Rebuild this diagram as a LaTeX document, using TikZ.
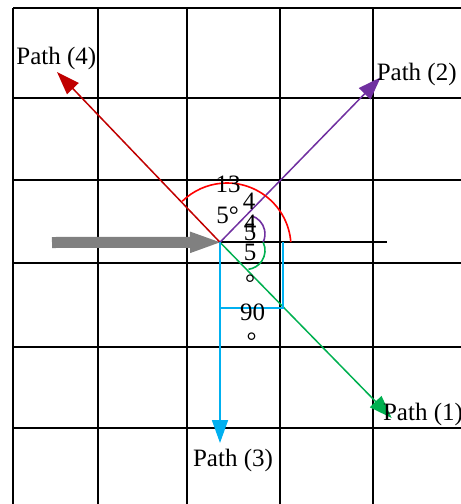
\documentclass[tikz,border=0pt]{standalone}
\usepackage{fontspec}
\setmainfont{Liberation Serif}
\usetikzlibrary{arrows.meta}
\definecolor{cRed}{HTML}{C00000}
\definecolor{cArc}{HTML}{FF0000}
\definecolor{cPur}{HTML}{7030A0}
\definecolor{cGrn}{HTML}{00B050}
\definecolor{cCya}{HTML}{00B0F0}
\definecolor{cGry}{HTML}{808080}
\begin{document}
\begin{tikzpicture}[x=1pt,y=-1pt,
  gridline/.style={black,line width=2pt},
  ray/.style={line width=1.5pt,-{Triangle[length=23pt,width=16pt]}},
  arcline/.style={line width=1.6pt},
  lbl/.style={inner sep=0pt,anchor=base,font=\fontsize{25}{30}\selectfont},
]
\useasboundingbox (0,0) rectangle (461,504);
\begin{scope}
\clip (0,0) rectangle (461,504);
\foreach \x in {13.3,97.7,187,280,373} \draw[gridline] (\x,8.3) -- (\x,510);
\foreach \y in {8.3,97.7,180,263.3,346.7,428} \draw[gridline] (13.3,\y) -- (470,\y);
\end{scope}
\coordinate (O) at (220,242.3);
\coordinate (E) at (387,242.3);
\draw[black,line width=1.8pt] (O) -- (E);
\coordinate (G) at (52,242.5);
\draw[cGry,line width=11pt,-{Triangle[length=30pt,width=21.6pt,line width=0pt]}] (G) -- (O);
\coordinate (t4) at (57,72);
\coordinate (t2) at (380.7,77.3);
\coordinate (t1) at (391.7,418);
\coordinate (t3) at (220,443);
\draw[ray,cRed] (O) -- (t4);
\draw[ray,cPur] (O) -- (t2);
\draw[ray,cGrn] (O) -- (t1);
\draw[ray,cCya,line width=1.8pt] (O) -- (t3);
\draw[arcline,cArc] (290.8,242.1) arc[start angle=-4.4,end angle=-134.4,radius=64];
\draw[arcline,cPur] (251.6,215.8) arc[start angle=-72.8,end angle=25.4,radius=19];
\draw[arcline,cGrn] (263.2,242.3) arc[start angle=-25.4,end angle=82.6,radius=19];
\coordinate (q1) at (220,308.3);
\coordinate (q2) at (283.3,308.3);
\coordinate (q3) at (283.3,242.3);
\draw[cCya,line width=1.8pt] (q1) -- (q2) -- (q3);
\node[lbl] (p4) at (56.3,64) {Path (4)};
\node[lbl] (p2) at (416.7,80) {Path (2)};
\node[lbl] (p1) at (423,420.5) {Path (1)};
\node[lbl] (p3) at (233,466.5) {Path (3)};
\node[lbl] (a1) at (228,192.5) {13};
\node[lbl] (a2) at (227.5,223) {5°};
\node[lbl] (b1) at (249,209.5) {4};
\node[lbl] (b2) at (250,231.5) {4};
\node[lbl] (b3) at (250,240) {5};
\node[lbl] (c1) at (250,260) {5};
\node[lbl] (c2) at (250,291) {°};
\node[lbl] (d1) at (252.5,320) {90};
\node[lbl] (d2) at (251.7,349.6) {°};
\end{tikzpicture}
\end{document}
